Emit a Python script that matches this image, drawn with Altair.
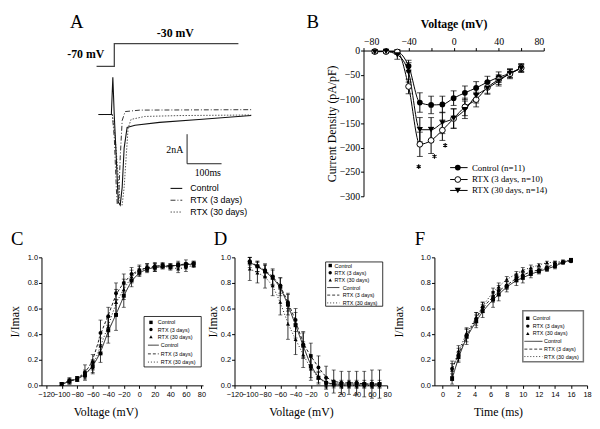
import altair as alt
import pandas as pd

SERIF = "Liberation Serif"
SANS = "Liberation Sans"
GROUPS = ["Control", "RTX (3 days)", "RTX (30 days)"]
STAR = "M0,-1L0,1M-0.87,-0.5L0.87,0.5M-0.87,0.5L0.87,-0.5"

# ---------------- Panel A: current traces (time ms, current nA) ----------------
a_ctrl_t = [-42.9, -5.7, -1.4, 2.9, 8.6, 14.3, 20.0, 25.7, 31.4, 40.0, 62.9, 134.0, 248.6, 400.0]
a_ctrl_i = [0.0, 0.0, 2.53, -0.13, -2.93, -5.93, -6.13, -4.93, -2.27, -0.87, -0.73, -0.53, -0.33, -0.07]
a_rtx3_t = [-42.9, -2.9, 2.9, 8.6, 11.4, 15.7, 20.0, 25.7, 34.3, 77.1, 400.0]
a_rtx3_i = [0.0, 0.0, -1.6, -4.93, -6.07, -5.6, -2.93, -0.4, 0.2, 0.3, 0.33]
a_rtx30_t = [-2.9, 5.7, 14.3, 20.0, 25.7, 31.4, 37.1, 42.9, 51.4, 91.4, 191.4, 400.0]
a_rtx30_i = [0.0, -1.6, -4.27, -6.07, -6.13, -4.93, -2.93, -0.93, -0.33, -0.13, -0.07, -0.03]
a_step_t = [-48.6, 2.9, 2.9, 362.9]
a_step_v = [-70, -70, -30, -30]
a_step_labels = ["-70 mV", "-30 mV"]
a_step_label_t = [-80, 180]
a_step_label_v = [-49, -11]
a_bar_t = [214, 214, 314]
a_bar_i = [-1.33, -3.33, -3.33]
a_bar_labels = ["2nA", "100ms"]
a_bar_label_t = [203, 274]
a_bar_label_i = [-2.4, -3.93]
a_leg_i = [-5.0, -5.8, -6.6]
a_leg_t = [166, 200, 223]

# ---------------- Panel B: I-V ----------------
b_v = [-70, -60, -50, -40, -30, -20, -10, 0, 10, 20, 30, 40, 50, 60]
b_ctrl = [-2, -2, -3, -32, -107, -112, -111, -98, -87, -77, -65, -55, -47, -35]
b_ctrl_err = [3, 3, 5, 12, 20, 18, 17, 15, 14, 13, 12, 11, 9, 8]
b_rtx3 = [-2, -2, -3, -74, -193, -185, -164, -140, -116, -101, -76, -60, -48, -36]
b_rtx3_err = [3, 3, 4, 15, 25, 27, 21, 20, 18, 15, 12, 10, 10, 8]
b_rtx30 = [-3, -2, -9, -45, -163, -163, -149, -140, -122, -93, -78, -63, -47, -37]
b_rtx30_err = [3, 3, 9, 20, 25, 25, 22, 20, 18, 15, 12, 10, 8, 8]
b_star_v = [-31, -17, -7.5]
b_star_i = [-239, -218, -195]
b_leg_labels = ["Control (n=11)", "RTX (3 days, n=10)", "RTX (30 days, n=14)"]
b_leg_i = [-241, -265.5, -288]
b_leg_v = [-3.1, 12.4, 3.7, 16.2]

# ---------------- Panel C: activation ----------------
c_v = [-100, -90, -80, -70, -60, -50, -40, -30, -20, -10, 0, 10, 20, 30, 40, 50, 60, 70]
c_ctrl = [0.01, 0.03, 0.05, 0.08, 0.15, 0.25, 0.43, 0.55, 0.70, 0.82, 0.88, 0.91, 0.92, 0.93, 0.93, 0.94, 0.94, 0.95]
c_ctrl_err = [0.01, 0.02, 0.02, 0.03, 0.05, 0.07, 0.10, 0.12, 0.09, 0.05, 0.03, 0.03, 0.03, 0.02, 0.02, 0.02, 0.02, 0.02]
c_rtx3 = [0.01, 0.04, 0.05, 0.10, 0.18, 0.41, 0.54, 0.72, 0.80, 0.87, 0.90, 0.92, 0.93, 0.94, 0.93, 0.94, 0.95, 0.95]
c_rtx3_err = [0.01, 0.02, 0.02, 0.06, 0.06, 0.10, 0.07, 0.08, 0.07, 0.05, 0.04, 0.03, 0.03, 0.02, 0.02, 0.03, 0.03, 0.02]
c_rtx30 = [0.01, 0.03, 0.05, 0.09, 0.14, 0.31, 0.46, 0.65, 0.75, 0.85, 0.90, 0.92, 0.92, 0.93, 0.92, 0.91, 0.92, 0.94]
c_rtx30_err = [0.01, 0.02, 0.02, 0.03, 0.05, 0.06, 0.08, 0.10, 0.08, 0.05, 0.03, 0.03, 0.03, 0.02, 0.02, 0.03, 0.03, 0.02]

# ---------------- Panel D: inactivation ----------------
d_v = [-100, -90, -80, -70, -60, -50, -40, -30, -20, -10, 0, 10, 20, 30, 40, 50, 60, 70]
d_ctrl = [0.96, 0.93, 0.89, 0.84, 0.77, 0.63, 0.47, 0.31, 0.15, 0.06, 0.02, 0.01, 0.01, 0.01, 0.01, 0.01, 0.01, 0.01]
d_ctrl_err = [0.04, 0.04, 0.05, 0.06, 0.07, 0.08, 0.10, 0.10, 0.09, 0.05, 0.04, 0.03, 0.03, 0.03, 0.03, 0.03, 0.03, 0.03]
d_rtx3 = [0.97, 0.93, 0.90, 0.85, 0.78, 0.65, 0.51, 0.32, 0.23, 0.14, 0.06, 0.03, 0.02, 0.02, 0.02, 0.01, 0.01, 0.01]
d_rtx3_err = [0.03, 0.04, 0.05, 0.06, 0.06, 0.07, 0.09, 0.10, 0.10, 0.09, 0.09, 0.09, 0.09, 0.09, 0.09, 0.10, 0.11, 0.11]
d_rtx30 = [0.91, 0.88, 0.85, 0.78, 0.65, 0.48, 0.36, 0.24, 0.13, 0.06, 0.01, 0.01, 0.00, 0.00, 0.00, 0.00, 0.00, 0.00]
d_rtx30_err = [0.09, 0.08, 0.09, 0.08, 0.10, 0.12, 0.12, 0.10, 0.09, 0.04, 0.02, 0.02, 0.02, 0.02, 0.02, 0.02, 0.02, 0.02]

# ---------------- Panel F: recovery ----------------
f_t = [1.2, 2, 3, 4.2, 5, 6.3, 7, 8, 9.2, 10, 11, 12, 13, 14, 15, 16]
f_ctrl = [0.05, 0.22, 0.38, 0.50, 0.58, 0.67, 0.71, 0.77, 0.82, 0.84, 0.87, 0.89, 0.91, 0.93, 0.96, 0.98]
f_ctrl_err = [0.04, 0.04, 0.06, 0.05, 0.05, 0.06, 0.05, 0.04, 0.04, 0.04, 0.03, 0.02, 0.02, 0.02, 0.01, 0.01]
f_rtx3 = [0.13, 0.24, 0.39, 0.52, 0.61, 0.69, 0.74, 0.78, 0.84, 0.86, 0.89, 0.90, 0.92, 0.95, 0.96, 0.97]
f_rtx3_err = [0.06, 0.05, 0.05, 0.05, 0.04, 0.04, 0.04, 0.03, 0.03, 0.03, 0.02, 0.02, 0.02, 0.02, 0.01, 0.01]
f_rtx30 = [0.12, 0.27, 0.41, 0.53, 0.62, 0.73, 0.77, 0.83, 0.87, 0.90, 0.92, 0.94, 0.96, 0.96, 0.97, 0.98]
f_rtx30_err = [0.05, 0.04, 0.04, 0.04, 0.03, 0.03, 0.03, 0.02, 0.02, 0.02, 0.02, 0.01, 0.01, 0.01, 0.01, 0.01]

LEG_LABELS = ["Control", "RTX (3 days)", "RTX (30 days)", "Control", "RTX (3 days)", "RTX (30 days)"]
c_leg = dict(box=[6.1, 79.7, 0.538, 0.144], rows=[0.492, 0.436, 0.379, 0.314, 0.246, 0.182],
             sx=15.0, tx=23.8, lx1=11.1, lx2=25.1, tx2=27.7)
d_leg = dict(box=[-0.6, 74.2, 0.964, 0.618], rows=[0.936, 0.879, 0.823, 0.764, 0.705, 0.644],
             sx=5.4, tx=11.0, lx1=1.5, lx2=17.4, tx2=21.7)
f_leg = dict(box=[10.0, 17.54, 0.582, 0.185], rows=[0.524, 0.463, 0.405, 0.344, 0.283, 0.225],
             sx=10.62, tx=11.23, lx1=10.2, lx2=12.45, tx2=12.65)


def long_df(xs, series, errs):
    rows = []
    for g, ys, es in zip(GROUPS, series, errs):
        for x, y, e in zip(xs, ys, es):
            rows.append({"g": g, "x": x, "y": y, "lo": y - e, "hi": y + e})
    return pd.DataFrame(rows)


def letter_title(letter, dx, dy=0, offset=0):
    return alt.TitleParams(letter, anchor="start", frame="group", font=SERIF, fontSize=19,
                           fontWeight="normal", color="black", dx=dx, dy=dy, offset=offset)


# ================= Panel A =================
A_X = alt.Scale(domain=[-208.4, 491.6], nice=False, zero=False)
A_I = alt.Scale(domain=[-5.533, 4.333], nice=False, zero=False)
A_V = alt.Scale(domain=[-299.6, -42.17], nice=False, zero=False)


def a_line(t, y, scale, color, width, dash=None):
    df = pd.DataFrame({"t": t, "y": y, "k": list(range(len(t)))})
    kw = dict(color=color, strokeWidth=width)
    if dash:
        kw["strokeDash"] = dash
    return alt.Chart(df).mark_line(**kw).encode(
        x=alt.X("t:Q", scale=A_X, axis=None),
        y=alt.Y("y:Q", scale=scale, axis=None),
        order="k:Q")


def a_text(t, y, labels, scale, **kw):
    df = pd.DataFrame({"t": t, "y": y, "s": labels})
    return alt.Chart(df).mark_text(color="black", **kw).encode(
        x=alt.X("t:Q", scale=A_X, axis=None),
        y=alt.Y("y:Q", scale=scale, axis=None),
        text="s:N")


a_styles = [("#111111", 1.1, None), ("#333333", 1.0, [5, 2, 1, 2]), ("#555555", 1.0, [1.5, 1.5])]
a_layers = [
    a_line(a_step_t, a_step_v, A_V, "#444444", 1.3),
    a_text(a_step_label_t, a_step_label_v, a_step_labels, A_V, font=SERIF, fontSize=12,
           fontWeight="bold", align="center", baseline="middle"),
    a_line(a_rtx30_t, a_rtx30_i, A_I, *a_styles[2]),
    a_line(a_rtx3_t, a_rtx3_i, A_I, *a_styles[1]),
    a_line(a_ctrl_t, a_ctrl_i, A_I, *a_styles[0]),
    a_line(a_bar_t, a_bar_i, A_I, "#222222", 1.0),
    a_text(a_bar_label_t[:1], a_bar_label_i[:1], a_bar_labels[:1], A_I, font=SERIF, fontSize=10,
           align="right", baseline="middle"),
    a_text(a_bar_label_t[1:], a_bar_label_i[1:], a_bar_labels[1:], A_I, font=SERIF, fontSize=10,
           align="center", baseline="middle"),
]
for k, (col, w, dash) in enumerate(a_styles):
    a_layers.append(a_line([a_leg_t[0], a_leg_t[1]], [a_leg_i[k], a_leg_i[k]], A_I, col, w, dash))
a_layers.append(a_text([a_leg_t[2]] * 3, a_leg_i, GROUPS, A_I, font=SANS, fontSize=9,
                       align="left", baseline="middle"))

panel_a = alt.layer(*a_layers).resolve_scale(y="independent").properties(
    width=245, height=148, title=letter_title("A", dx=29, dy=5))

# ================= Panel B =================
BX = alt.Scale(domain=[-80, 80], nice=False, zero=False)
BY = alt.Scale(domain=[-300, 0], nice=False, zero=False)
b_df = long_df(b_v, [b_ctrl, b_rtx3, b_rtx30], [b_ctrl_err, b_rtx3_err, b_rtx30_err])
bx_axis = alt.Axis(orient="top", values=list(range(-80, 81, 20)), title="Voltage (mV)",
                   titleFont=SERIF, titleFontSize=12, titleFontWeight="bold", labelFont=SERIF,
                   labelFontSize=10, tickSize=3, labelPadding=1, titlePadding=6, grid=False)
by_axis = alt.Axis(values=list(range(-300, 1, 50)), title="Current Density (pA/pF)",
                   titleFont=SERIF, titleFontSize=12, titleFontWeight="normal", labelFont=SERIF,
                   labelFontSize=10, tickSize=3, labelPadding=1, titlePadding=1, grid=False)


def bX(field="x"):
    return alt.X(f"{field}:Q", scale=BX, axis=bx_axis)


def bY(field="y"):
    return alt.Y(f"{field}:Q", scale=BY, axis=by_axis)


b_base = alt.Chart(b_df)
b_lines = b_base.mark_line(color="black", strokeWidth=1, interpolate="monotone").encode(
    x=bX(), y=bY(), detail="g:N")
b_err = b_base.mark_rule(color="black", strokeWidth=1).encode(x=bX(), y=bY("lo"), y2="hi:Q")
b_cap_lo = b_base.mark_tick(orient="horizontal", color="black", size=6, thickness=1).encode(
    x=bX(), y=bY("lo"))
b_cap_hi = b_base.mark_tick(orient="horizontal", color="black", size=6, thickness=1).encode(
    x=bX(), y=bY("hi"))


def b_marks(df):
    return [
        alt.Chart(df[df.g == GROUPS[0]]).mark_point(shape="circle", filled=True, color="black",
                                                     size=34, opacity=1).encode(x=bX(), y=bY()),
        alt.Chart(df[df.g == GROUPS[1]]).mark_point(shape="circle", fill="white", stroke="black",
                                                     strokeWidth=1, size=34, opacity=1).encode(x=bX(), y=bY()),
        alt.Chart(df[df.g == GROUPS[2]]).mark_point(shape="triangle-down", filled=True, color="black",
                                                     size=40, opacity=1).encode(x=bX(), y=bY()),
    ]


b_leg_line = pd.DataFrame({"x": [b_leg_v[0]] * 3, "x2": [b_leg_v[1]] * 3, "y": b_leg_i})
b_leg_sym = pd.DataFrame({"g": GROUPS, "x": [b_leg_v[2]] * 3, "y": b_leg_i})
b_leg_txt = pd.DataFrame({"x": [b_leg_v[3]] * 3, "y": b_leg_i, "s": b_leg_labels})
b_stars = pd.DataFrame({"x": b_star_v, "y": b_star_i})

panel_b = alt.layer(
    b_lines, b_err, b_cap_lo, b_cap_hi, *b_marks(b_df),
    alt.Chart(b_stars).mark_point(shape=STAR, filled=False, stroke="black", strokeWidth=1.1,
                                  size=22, opacity=1).encode(x=bX(), y=bY()),
    alt.Chart(b_leg_line).mark_rule(color="black", strokeWidth=1).encode(x=bX(), x2="x2:Q", y=bY()),
    *b_marks(b_leg_sym),
    alt.Chart(b_leg_txt).mark_text(font=SERIF, fontSize=9, color="black", align="left",
                                   baseline="middle").encode(x=bX(), y=bY(), text="s:N"),
).properties(width=183, height=148, title=letter_title("B", dx=-58, dy=14))


# ================= Panels C, D, F =================
def ratio_panel(letter, xs, series, errs, xdom, xticks, width, xtitle, leg, dashes,
                box_stroke, box_sw, title_dx, ytitle_pad, xtitle_shift):
    XS = alt.Scale(domain=xdom, nice=False, zero=False)
    YS = alt.Scale(domain=[0, 1], nice=False, zero=False)
    df = long_df(xs, series, errs)
    xaxis = alt.Axis(values=xticks, title=xtitle, labelFont=SANS, labelFontSize=7.5,
                     labelOverlap=False, labelFlush=False, titleFont=SERIF, titleFontSize=12,
                     titleFontWeight="normal", tickSize=3, labelPadding=2, titlePadding=9,
                     titleX=width / 2 - xtitle_shift, grid=False)
    yaxis = alt.Axis(values=[0, 0.2, 0.4, 0.6, 0.8, 1.0], format=".1f", title="I/Imax",
                     labelFont=SANS, labelFontSize=7.5, titleFont=SERIF, titleFontSize=12,
                     titleFontWeight="normal", tickSize=3, labelPadding=1, titlePadding=ytitle_pad,
                     grid=False)

    def X(f="x"):
        return alt.X(f"{f}:Q", scale=XS, axis=xaxis)

    def Y(f="y"):
        return alt.Y(f"{f}:Q", scale=YS, axis=yaxis)

    shape = alt.Shape("g:N", scale=alt.Scale(domain=GROUPS, range=["square", "circle", "triangle-up"]),
                      legend=None)
    dash = alt.StrokeDash("g:N", scale=alt.Scale(domain=GROUPS, range=dashes), legend=None)
    base = alt.Chart(df)
    lines = base.mark_line(color="black", strokeWidth=0.9, interpolate="basis").encode(
        x=X(), y=Y(), strokeDash=dash, detail="g:N")
    err = base.mark_rule(color="black", strokeWidth=0.8).encode(x=X(), y=Y("lo"), y2="hi:Q")
    cap_lo = base.mark_tick(orient="horizontal", color="black", size=4, thickness=0.8).encode(
        x=X(), y=Y("lo"))
    cap_hi = base.mark_tick(orient="horizontal", color="black", size=4, thickness=0.8).encode(
        x=X(), y=Y("hi"))
    pts = base.mark_point(filled=True, color="black", size=16, opacity=1).encode(x=X(), y=Y(), shape=shape)

    b = leg["box"]
    box_df = pd.DataFrame({"x": [b[0]], "x2": [b[1]], "y": [b[2]], "y2": [b[3]]})
    sym_df = pd.DataFrame({"g": GROUPS, "x": [leg["sx"]] * 3, "y": leg["rows"][:3]})
    ln_df = pd.DataFrame({"g": GROUPS, "x": [leg["lx1"]] * 3, "x2": [leg["lx2"]] * 3, "y": leg["rows"][3:]})
    tx_df = pd.DataFrame({"x": [leg["tx"]] * 3 + [leg["tx2"]] * 3, "y": leg["rows"], "s": LEG_LABELS})
    legend = [
        alt.Chart(box_df).mark_rect(fill="white", stroke=box_stroke, strokeWidth=box_sw).encode(
            x=X(), x2="x2:Q", y=Y(), y2="y2:Q"),
        alt.Chart(sym_df).mark_point(filled=True, color="black", size=12, opacity=1).encode(
            x=X(), y=Y(), shape=shape),
        alt.Chart(ln_df).mark_rule(color="black", strokeWidth=0.8).encode(
            x=X(), x2="x2:Q", y=Y(), strokeDash=dash),
        alt.Chart(tx_df).mark_text(font=SANS, fontSize=5.5, color="black", align="left",
                                   baseline="middle").encode(x=X(), y=Y(), text="s:N"),
    ]
    return alt.layer(lines, err, cap_lo, cap_hi, pts, *legend).properties(
        width=width, height=130, title=letter_title(letter, dx=title_dx, offset=5))


panel_c = ratio_panel("C", c_v, [c_ctrl, c_rtx3, c_rtx30], [c_ctrl_err, c_rtx3_err, c_rtx30_err],
                      [-126, 82], list(range(-120, 81, 20)), 164, "Voltage (mV)", c_leg,
                      [[1, 0], [3, 2], [1, 2]], "black", 0.8, -31, 6, 17)
panel_d = ratio_panel("D", d_v, [d_ctrl, d_rtx3, d_rtx30], [d_ctrl_err, d_rtx3_err, d_rtx30_err],
                      [-120, 80], list(range(-120, 81, 20)), 155, "Voltage (mV)", d_leg,
                      [[1, 0], [3, 2], [1, 2]], "black", 0.8, -21, 1, 10)
panel_f = ratio_panel("F", f_t, [f_ctrl, f_rtx3, f_rtx30], [f_ctrl_err, f_rtx3_err, f_rtx30_err],
                      [-1, 18], list(range(0, 19, 2)), 155, "Time (ms)", f_leg,
                      [[1, 0], [4, 1.5, 1, 1.5], [2, 2]], "#777777", 1.5, -20, 15, 13)

top = alt.hconcat(panel_a, panel_b, spacing=24)
bottom = alt.hconcat(panel_c, panel_d, panel_f, spacing=0)
chart = alt.vconcat(top, bottom, spacing=12).properties(
    padding={"left": 0, "top": 2, "right": 0, "bottom": 0}, background="white"
).configure_view(stroke=None).configure_axis(
    labelColor="black", titleColor="black", domainColor="black", tickColor="black",
    domainWidth=1, tickWidth=1
)

chart.save("out.html", embed_options={"renderer": "svg", "actions": False})
